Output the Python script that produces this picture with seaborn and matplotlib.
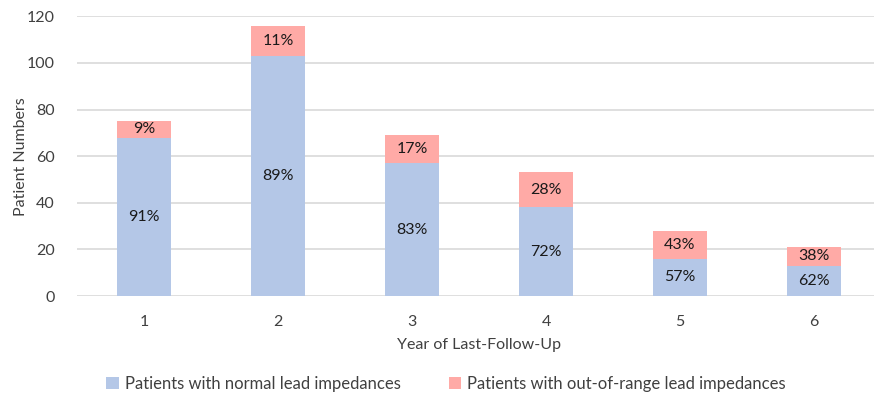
import matplotlib
matplotlib.use("Agg")
import matplotlib.pyplot as plt
from matplotlib.patches import Patch
import seaborn as sns
import pandas as pd

# Patients per year of last follow-up
years = [1, 2, 3, 4, 5, 6]
normal = [68, 103, 57, 38, 16, 13]
out_of_range = [7, 13, 12, 15, 12, 8]

series_names = ["Patients with normal lead impedances",
                "Patients with out-of-range lead impedances"]
blue = "#B4C7E7"
pink = "#FFAAA6"
text_grey = "#404040"

total = [n + o for n, o in zip(normal, out_of_range)]
df = pd.DataFrame({"year": years, "normal": normal,
                   "out": out_of_range, "total": total})

sns.set_theme(style="white")
plt.rcParams["font.family"] = ["Lato", "DejaVu Sans"]

fig = plt.figure(figsize=(8.74, 3.99), dpi=100)
W, H = 874, 399
ax = fig.add_axes([77 / W, (H - 296) / H, (881 - 77) / W, (296 - 16.3) / H])

# stacked bars: full height in pink, normal share in blue on top of it
sns.barplot(data=df, x="year", y="total", color=pink, width=0.4,
            saturation=1, ax=ax, zorder=3, linewidth=0)
sns.barplot(data=df, x="year", y="normal", color=blue, width=0.4,
            saturation=1, ax=ax, zorder=3, linewidth=0)

ax.set_ylim(0, 120)
ax.set_yticks(range(0, 121, 20))
ax.set_xlim(-0.5, 5.5)
ax.grid(axis="y", color="#D9D9D9", linewidth=1.2, zorder=0)
ax.set_axisbelow(True)
for s in ax.spines.values():
    s.set_visible(False)
ax.tick_params(axis="both", length=0, labelsize=11.5, colors=text_grey)
ax.tick_params(axis="y", pad=16)
ax.tick_params(axis="x", pad=14)
ax.set_xlabel("Year of Last-Follow-Up", fontsize=11.5, color=text_grey, labelpad=6)
ax.set_ylabel("Patient Numbers", fontsize=11.5, color=text_grey, labelpad=-1)

# percentage labels inside each segment
for i, (n, o, t) in enumerate(zip(normal, out_of_range, total)):
    ax.text(i, n / 2, f"{round(100 * n / t)}%", ha="center", va="center",
            fontsize=11.5, color="#1a1a1a", zorder=5)
    ax.text(i, n + o / 2, f"{round(100 * o / t)}%", ha="center", va="center",
            fontsize=11.5, color="#1a1a1a", zorder=5)

handles = [Patch(facecolor=blue, edgecolor="none"),
           Patch(facecolor=pink, edgecolor="none")]
fig.legend(handles, series_names, loc="center", ncol=2,
           bbox_to_anchor=(446 / W, (H - 384) / H), frameon=False,
           fontsize=12, labelcolor=text_grey, handlelength=0.75,
           handleheight=0.75, handletextpad=0.35, columnspacing=2.9)

fig.savefig("out.png", dpi=100)
